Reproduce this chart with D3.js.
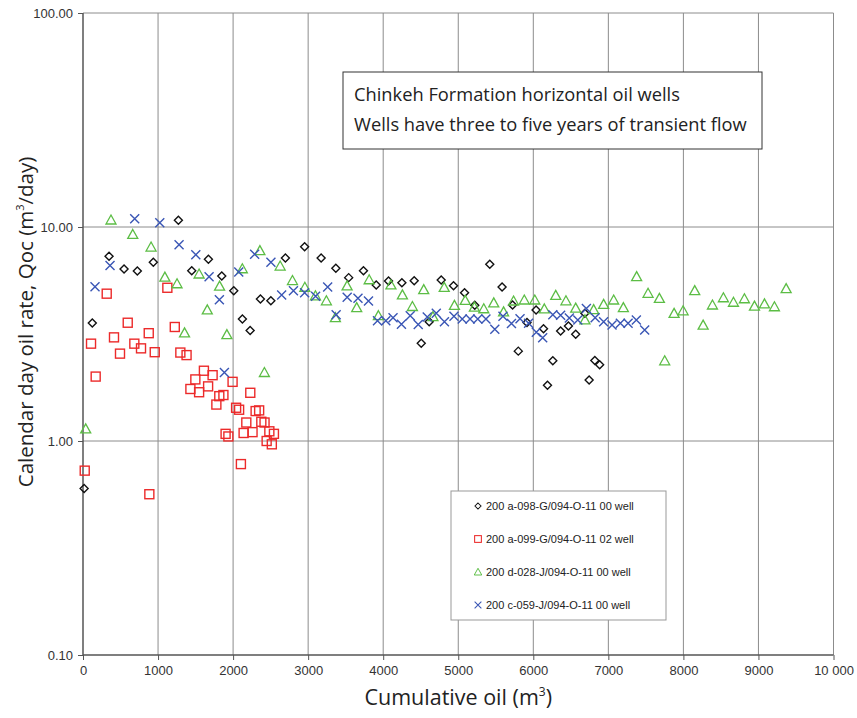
<!DOCTYPE html>
<html>
<head>
<meta charset="utf-8">
<script src="https://cdn.jsdelivr.net/npm/d3@7"></script>
<style>
  body { margin: 0; background: #fff; }
  svg { display: block; }
</style>
</head>
<body>
<div id="chart"></div>
<script>
// well names (legend)
var wellNames = [
  "200 a-098-G/094-O-11 00 well",
  "200 a-099-G/094-O-11 02 well",
  "200 d-028-J/094-O-11 00 well",
  "200 c-059-J/094-O-11 00 well"
];

// cumulative oil (m3) and calendar day rate (m3/day), one pair per well
var cum098 = [15, 124, 347, 547, 724, 937, 1271, 1449, 1671, 1849, 2009, 2124, 2227, 2364, 2503, 2697, 2953, 3173, 3369, 3540, 3737, 3907, 4071, 4249, 4413, 4507, 4613, 4773, 4937, 5084, 5220, 5420, 5584, 5724, 5800, 5916, 6037, 6136, 6189, 6260, 6364, 6468, 6565, 6687, 6744, 6820, 6884];
var rate098 = [0.60, 3.56, 7.30, 6.37, 6.23, 6.84, 10.75, 6.25, 7.07, 5.90, 5.04, 3.72, 3.28, 4.61, 4.52, 7.16, 8.09, 7.16, 6.41, 5.80, 6.25, 5.36, 5.59, 5.49, 5.61, 2.86, 3.61, 5.65, 5.32, 4.93, 4.31, 6.69, 5.24, 4.32, 2.63, 3.58, 4.09, 3.35, 1.82, 2.37, 3.27, 3.45, 3.15, 3.95, 1.93, 2.38, 2.27];

var cum099 = [23, 107, 169, 316, 413, 493, 596, 684, 773, 876, 884, 956, 1124, 1223, 1297, 1380, 1431, 1497, 1547, 1611, 1667, 1727, 1777, 1816, 1871, 1900, 1937, 1993, 2040, 2080, 2104, 2140, 2176, 2229, 2259, 2300, 2347, 2376, 2419, 2447, 2483, 2516, 2544];
var rate099 = [0.727, 2.85, 2.00, 4.88, 3.05, 2.56, 3.57, 2.85, 2.71, 3.19, 0.564, 2.60, 5.20, 3.41, 2.59, 2.52, 1.75, 1.94, 1.69, 2.13, 1.80, 2.03, 1.48, 1.62, 1.64, 1.08, 1.05, 1.89, 1.43, 1.40, 0.78, 1.09, 1.22, 1.68, 1.10, 1.38, 1.39, 1.23, 1.22, 1.00, 1.11, 0.965, 1.08];

var cum028 = [36, 373, 663, 907, 1091, 1253, 1353, 1547, 1656, 1820, 1917, 2123, 2357, 2417, 2627, 2791, 2956, 3097, 3243, 3363, 3519, 3647, 3813, 3936, 4103, 4256, 4389, 4540, 4663, 4813, 4949, 5093, 5215, 5340, 5473, 5604, 5737, 5880, 6020, 6147, 6299, 6435, 6565, 6688, 6804, 6937, 7071, 7200, 7377, 7529, 7680, 7751, 7876, 7996, 8151, 8263, 8387, 8533, 8667, 8813, 8947, 9080, 9213, 9369];
var rate028 = [1.14, 10.78, 9.23, 8.06, 5.83, 5.43, 3.20, 6.03, 4.10, 5.29, 3.14, 6.38, 7.75, 2.09, 6.57, 5.62, 5.23, 4.77, 4.52, 3.77, 5.31, 4.20, 5.67, 3.85, 5.36, 4.82, 4.25, 5.10, 3.81, 5.22, 4.30, 4.54, 4.22, 4.15, 4.42, 4.01, 4.51, 4.56, 4.56, 4.14, 4.79, 4.52, 4.18, 3.68, 4.11, 4.35, 4.56, 4.20, 5.86, 4.90, 4.64, 2.37, 3.95, 4.06, 5.04, 3.48, 4.32, 4.67, 4.45, 4.62, 4.27, 4.37, 4.24, 5.15];

var cum059 = [160, 360, 689, 1023, 1280, 1503, 1680, 1817, 1884, 2075, 2287, 2504, 2647, 2804, 2953, 3099, 3260, 3373, 3520, 3664, 3804, 3924, 4035, 4131, 4243, 4360, 4467, 4587, 4707, 4816, 4943, 5053, 5157, 5260, 5369, 5487, 5596, 5709, 5823, 5937, 6040, 6125, 6260, 6364, 6480, 6593, 6707, 6824, 6937, 7049, 7160, 7263, 7373, 7484];
var rate059 = [5.26, 6.60, 10.94, 10.47, 8.27, 7.42, 5.85, 4.57, 2.09, 6.16, 7.46, 6.84, 4.81, 5.03, 4.93, 4.75, 5.24, 3.89, 4.70, 4.65, 4.51, 3.65, 3.65, 3.77, 3.51, 3.85, 3.50, 3.80, 3.95, 3.61, 3.83, 3.72, 3.72, 3.72, 3.72, 3.33, 3.83, 3.54, 3.73, 3.55, 3.22, 3.04, 3.89, 3.87, 3.76, 3.68, 4.16, 3.77, 3.61, 3.48, 3.55, 3.55, 3.68, 3.30];

var xTicks = [0, 1000, 2000, 3000, 4000, 5000, 6000, 7000, 8000, 9000, 10000];
var xTickLabels = ["0", "1000", "2000", "3000", "4000", "5000", "6000", "7000", "8000", "9000", "10 000"];
var yTicks = [0.1, 1, 10, 100];
var yTickLabels = ["0.10", "1.00", "10.00", "100.00"];

var noteLines = [
  "Chinkeh Formation horizontal oil wells",
  "Wells have three to five years of transient flow"
];

var margin = { top: 13, right: 23.5, bottom: 63, left: 83 },
    width = 857 - margin.left - margin.right,
    height = 718 - margin.top - margin.bottom;

var x = d3.scaleLinear().domain([0, 10000]).range([0, width]);
var y = d3.scaleLog().domain([0.1, 100]).range([height, 0]);

var svg = d3.select("#chart").append("svg")
    .attr("width", 857)
    .attr("height", 718)
  .append("g")
    .attr("transform", "translate(" + margin.left + "," + margin.top + ")");

// grid
svg.append("g").selectAll("line.vg")
    .data(xTicks.slice(1))
  .enter().append("line")
    .attr("x1", function (d) { return x(d); })
    .attr("x2", function (d) { return x(d); })
    .attr("y1", 0).attr("y2", height)
    .attr("stroke", "#8c8c8c").attr("stroke-width", 1);
svg.append("g").selectAll("line.hg")
    .data(yTicks.slice(1))
  .enter().append("line")
    .attr("x1", 0).attr("x2", width)
    .attr("y1", function (d) { return y(d); })
    .attr("y2", function (d) { return y(d); })
    .attr("stroke", "#8c8c8c").attr("stroke-width", 1);

// axes
var xAxis = svg.append("g")
    .attr("transform", "translate(0," + height + ")")
    .call(d3.axisBottom(x).tickValues(xTicks).tickSize(5).tickPadding(6)
      .tickFormat(function (d, i) { return xTickLabels[i]; }));
var yAxis = svg.append("g")
    .call(d3.axisLeft(y).tickValues(yTicks).tickSize(5).tickPadding(5)
      .tickFormat(function (d, i) { return yTickLabels[i]; }));

[xAxis, yAxis].forEach(function (a) {
  a.select(".domain").attr("stroke", "#555").attr("stroke-width", 1.5);
  a.selectAll(".tick line").attr("stroke", "#555");
  a.selectAll(".tick text")
    .attr("font-family", "Liberation Sans, Arial, sans-serif")
    .attr("font-size", 13).attr("fill", "#333");
});
xAxis.select(".domain").attr("d", "M0,0H" + width);
yAxis.select(".domain").attr("d", "M0,0V" + height);

// axis titles
var xt = svg.append("text")
    .attr("x", width / 2).attr("y", height + 50)
    .attr("text-anchor", "middle")
    .attr("font-family", "Open Sans, sans-serif")
    .attr("font-size", 21.5).attr("fill", "#222");
xt.append("tspan").text("Cumulative oil (m");
xt.append("tspan").attr("font-size", 12).attr("dy", -9).text("3");
xt.append("tspan").attr("dy", 9).text(")");

var yt = svg.append("text")
    .attr("transform", "translate(" + (-50) + "," + (height / 2 - 12) + ") rotate(-90)")
    .attr("text-anchor", "middle")
    .attr("font-family", "Open Sans, sans-serif")
    .attr("font-size", 20.5).attr("fill", "#222");
yt.append("tspan").text("Calendar day oil rate, Qoc (m");
yt.append("tspan").attr("font-size", 11).attr("dy", -9).text("3");
yt.append("tspan").attr("dy", 9).text("/day)");

// note box
var note = svg.append("g").attr("transform", "translate(260,59)");
note.append("rect")
    .attr("width", 419).attr("height", 77)
    .attr("fill", "#fff").attr("stroke", "#333").attr("stroke-width", 1);
note.selectAll("text")
    .data(noteLines)
  .enter().append("text")
    .attr("x", 11)
    .attr("y", function (d, i) { return 29 + i * 30; })
    .attr("font-family", "Open Sans, sans-serif")
    .attr("font-size", 18.3).attr("fill", "#222")
    .text(function (d) { return d; });

// markers
var colors = ["#111111", "#ec2a2a", "#5cbd45", "#3a56b5"];
function marker(sel, k) {
  if (k === 0) {
    sel.append("path").attr("d", "M0,-4L4,0L0,4L-4,0Z")
      .attr("fill", "none").attr("stroke", colors[0]).attr("stroke-width", 1.4);
  } else if (k === 1) {
    sel.append("rect").attr("x", -4.5).attr("y", -4.5).attr("width", 9).attr("height", 9)
      .attr("fill", "none").attr("stroke", colors[1]).attr("stroke-width", 1.4);
  } else if (k === 2) {
    sel.append("path").attr("d", "M0,-5L5,4L-5,4Z")
      .attr("fill", "none").attr("stroke", colors[2]).attr("stroke-width", 1.3);
  } else {
    sel.append("path").attr("d", "M-4.5,-4.5L4.5,4.5M-4.5,4.5L4.5,-4.5")
      .attr("fill", "none").attr("stroke", colors[3]).attr("stroke-width", 1.4);
  }
}

var series = [
  { cum: cum098, rate: rate098 },
  { cum: cum099, rate: rate099 },
  { cum: cum028, rate: rate028 },
  { cum: cum059, rate: rate059 }
];

series.forEach(function (s, k) {
  var pts = s.cum.map(function (c, i) { return [c, s.rate[i]]; });
  svg.append("g").selectAll("g")
      .data(pts)
    .enter().append("g")
      .attr("transform", function (d) { return "translate(" + x(d[0]) + "," + y(d[1]) + ")"; })
      .each(function () { marker(d3.select(this), k); });
});

// legend
var legend = svg.append("g").attr("transform", "translate(368,478)");
legend.append("rect")
    .attr("width", 215).attr("height", 129)
    .attr("fill", "#fff").attr("stroke", "#999").attr("stroke-width", 1);
wellNames.forEach(function (name, k) {
  var row = legend.append("g").attr("transform", "translate(27," + (15 + k * 33) + ")");
  var m = row.append("g").attr("transform", "scale(0.75)");
  marker(m, k);
  row.append("text")
      .attr("x", 8).attr("y", 4)
      .attr("font-family", "Liberation Sans, Arial, sans-serif")
      .attr("font-size", 11).attr("fill", "#222")
      .text(name);
});
</script>
</body>
</html>
